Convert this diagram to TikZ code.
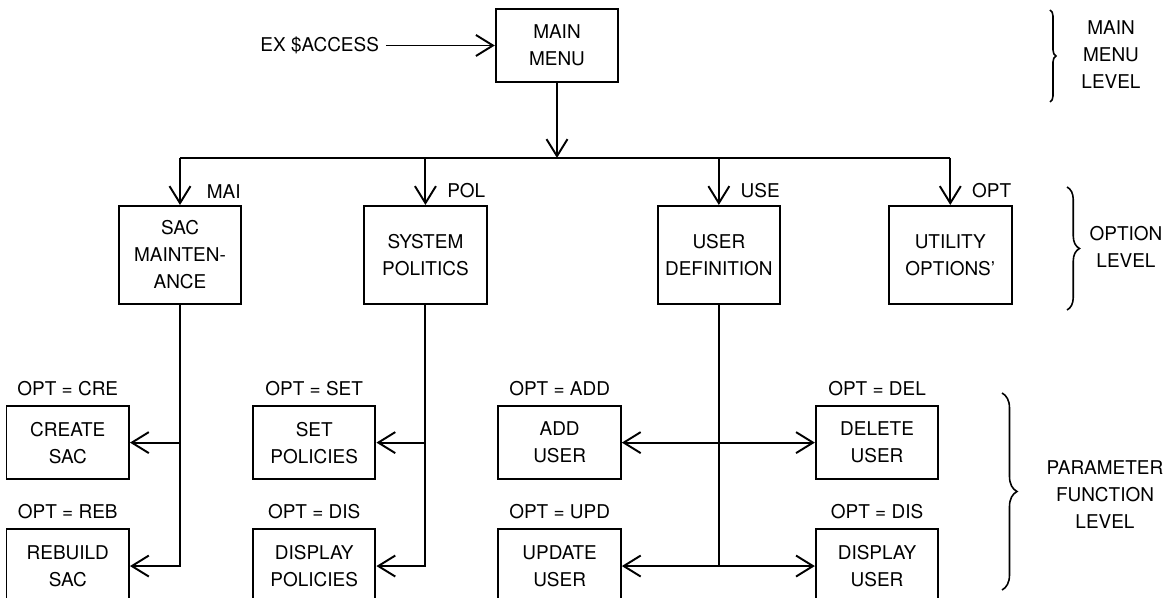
\documentclass[tikz,border=0pt]{standalone}
\usepackage{fontspec}
\setmainfont{TeX Gyre Heros}
\usetikzlibrary{positioning, arrows.meta, decorations.pathreplacing}

\begin{document}
\begin{tikzpicture}[font=\fontsize{10.8}{15.4}\selectfont, line width=1.1pt,
    >={Straight Barb[length=3.4mm, width=4.2mm]},
    menubox/.style={draw, align=center, minimum width=2.45cm, minimum height=1.46cm, inner sep=1pt},
    optbox/.style={menubox, minimum height=1.96cm},
    fnbox/.style={menubox, minimum height=1.47cm},
    code/.style={},
    lvl/.style={align=center},
    curly/.style={line width=0.9pt, decorate, decoration={brace, amplitude=#1}}]
    \useasboundingbox (-11.14,0.91) rectangle (12.24,-11.05);
    \node[menubox] (main) {MAIN\\MENU};
    \node[left=2.18cm of main] (ex) {EX \$ACCESS};
    \draw[->] (ex) -- (main);
    \draw[->] (main.south) --++(0,-1.5) coordinate (hub);
    % option level
    \node[optbox, below=2.44cm of main, xshift=-7.54cm] (sac) {SAC\\MAINTEN-\\ANCE};
    \node[optbox, right=2.42cm of sac] (pol) {SYSTEM\\POLITICS};
    \node[optbox, right=3.38cm of pol] (use) {USER\\DEFINITION};
    \node[optbox, right=2.14cm of use] (utl) {UTILITY\\OPTIONS'};
    \draw (sac.north |- hub) -- (utl.north |- hub);
    \draw[->] (sac.north |- hub) -- (sac.north);
    \draw[->] (pol.north |- hub) -- (pol.north);
    \draw[->] (use.north |- hub) -- (use.north);
    \draw[->] (utl.north |- hub) -- (utl.north);
    \node[code, above right=0cm and 0.4cm of sac.north] (mai) {MAI};
    \node[code, above right=0cm and 0.3cm of pol.north] (pl) {POL};
    \node[code, above right=0cm and 0.3cm of use.north] (us) {USE};
    \node[code, above right=0cm and 0.3cm of utl.north] (op) {OPT};
    % parameter function level
    \node[fnbox, below left=2cm and 1cm of sac.south] (cre) {CREATE\\SAC};
    \node[fnbox, below=0.96cm of cre] (reb) {REBUILD\\SAC};
    \node[fnbox, below left=2cm and 0.98cm of pol.south] (setp) {SET\\POLICIES};
    \node[fnbox, below=0.96cm of setp] (disp) {DISPLAY\\POLICIES};
    \node[fnbox, below left=2cm and 1.94cm of use.south] (add) {ADD\\USER};
    \node[fnbox, below=0.96cm of add] (upd) {UPDATE\\USER};
    \node[fnbox, below right=2cm and 1.92cm of use.south] (del) {DELETE\\USER};
    \node[fnbox, below=0.96cm of del] (disu) {DISPLAY\\USER};
    \node[code, above=0.05cm of cre] (ocre) {OPT = CRE};
    \node[code, above=0.05cm of reb] (oreb) {OPT = REB};
    \node[code, above=0.05cm of setp] (oset) {OPT = SET};
    \node[code, above=0.05cm of disp] (odisp) {OPT = DIS};
    \node[code, above=0.05cm of add] (oadd) {OPT = ADD};
    \node[code, above=0.05cm of upd] (oupd) {OPT = UPD};
    \node[code, above=0.05cm of del] (odel) {OPT = DEL};
    \node[code, above=0.05cm of disu] (odisu) {OPT = DIS};
    \draw[->] (sac.south) |- (cre.east);
    \draw[->] (sac.south) |- (reb.east);
    \draw[->] (pol.south) |- (setp.east);
    \draw[->] (pol.south) |- (disp.east);
    \draw[->] (use.south) |- (add.east);
    \draw[->] (use.south) |- (del.west);
    \draw[->] (use.south) |- (upd.east);
    \draw[->] (use.south) |- (disu.west);
    % levels
    \draw[curly=0.12cm] (9.86,0.71) -- (9.86,-1.13);
    \draw[curly=0.25cm] (10.2,-2.83) -- (10.2,-5.29);
    \draw[curly=0.3cm] (8.9,-6.95) -- (8.9,-10.89);
    \node[lvl] (lvmain) at (11.08,-0.19) {MAIN\\MENU\\LEVEL};
    \node[lvl] (lvopt) at (11.38,-4.03) {OPTION\\LEVEL};
    \node[lvl] (lvpar) at (10.96,-8.99) {PARAMETER\\FUNCTION\\LEVEL};
\end{tikzpicture}
\end{document}
